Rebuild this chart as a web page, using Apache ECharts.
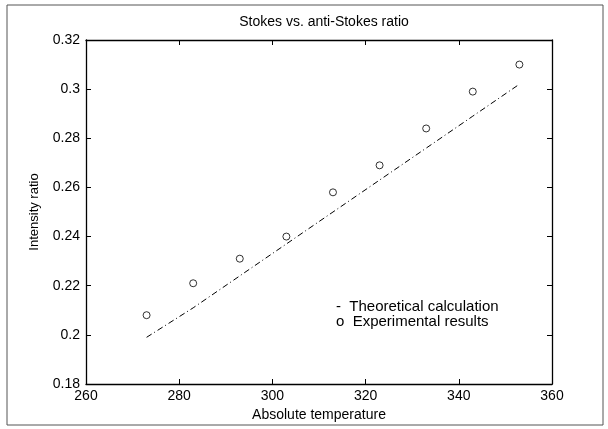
<!DOCTYPE html>
<html lang="en">
<head>
    <meta charset="UTF-8">
    <title>Stokes vs. anti-Stokes ratio</title>
    <script src="https://cdn.jsdelivr.net/npm/echarts@6/dist/echarts.min.js"></script>
</head>
<body style="margin: 0; background: #fff;">
    <div id="echarts" style="width: 608px; height: 429px;"></div>
    <script>
        const temps = [273, 283, 293, 303, 313, 323, 333, 343, 353]; // 绝对温度
        const theoretical = [0.199, 0.211, 0.224, 0.237, 0.250, 0.263, 0.276, 0.289, 0.302]; // 理论计算
        const experimental = [0.208, 0.221, 0.231, 0.240, 0.258, 0.269, 0.284, 0.299, 0.310]; // 实验结果
        const xTicks = [260, 280, 300, 320, 340, 360];
        const yTicks = [0.18, 0.2, 0.22, 0.24, 0.26, 0.28, 0.3, 0.32];

        const font = 'Liberation Sans, Arial, sans-serif';
        const myChart = echarts.init(document.querySelector('#echarts'));

        const tick = {show: true, inside: true, length: 5, lineStyle: {color: '#000'}};
        const line = {show: true, lineStyle: {color: '#000', width: 1.3}};

        const option = {
            backgroundColor: '#fff',
            animation: false,
            title: {
                text: 'Stokes vs. anti-Stokes ratio',
                left: 319, top: 10, textAlign: 'center',
                textStyle: {fontFamily: font, fontSize: 14, fontWeight: 'normal', color: '#000'}
            },
            grid: {left: 86, right: 56, top: 40, bottom: 45},
            legend: {
                orient: 'vertical',
                left: 331, top: 299,
                icon: 'none',
                itemGap: 0,
                itemWidth: 0,
                padding: 0,
                textStyle: {fontFamily: font, fontSize: 15, color: '#000', lineHeight: 15},
                formatter: name => (name === 'Theoretical calculation' ? '-  ' : 'o  ') + name,
                data: ['Theoretical calculation', 'Experimental results']
            },
            xAxis: [{
                type: 'value', min: 260, max: 360, interval: 20,
                name: 'Absolute temperature', nameLocation: 'middle', nameGap: 23,
                nameTextStyle: {fontFamily: font, fontSize: 14, color: '#000'},
                axisLine: line, axisTick: tick, splitLine: {show: false},
                axisLabel: {fontFamily: font, fontSize: 14, color: '#000', margin: 5,
                    formatter: v => xTicks.includes(v) ? String(v) : ''}
            }, {
                type: 'value', position: 'top', min: 260, max: 360, interval: 20,
                axisLine: line, axisTick: tick, axisLabel: {show: false}, splitLine: {show: false}
            }],
            yAxis: [{
                type: 'value', min: 0.18, max: 0.32, interval: 0.02,
                name: 'Intensity ratio', nameLocation: 'middle', nameGap: 45,
                nameTextStyle: {fontFamily: font, fontSize: 13, color: '#000'},
                axisLine: line, axisTick: tick, splitLine: {show: false},
                axisLabel: {fontFamily: font, fontSize: 14, color: '#000', margin: 6,
                    formatter: v => {
                        const t = yTicks.find(y => Math.abs(y - v) < 1e-6);
                        return t === undefined ? '' : String(t);
                    }}
            }, {
                type: 'value', position: 'right', min: 0.18, max: 0.32, interval: 0.02,
                axisLine: line, axisTick: tick, axisLabel: {show: false}, splitLine: {show: false}
            }],
            series: [
                {
                    name: 'Theoretical calculation',
                    type: 'line',
                    data: temps.map((t, i) => [t, theoretical[i]]),
                    showSymbol: false,
                    symbol: 'none',
                    lineStyle: {color: '#000', width: 1, type: [6, 3, 1, 3]},
                    itemStyle: {color: '#000'}
                },
                {
                    name: 'Experimental results',
                    type: 'scatter',
                    data: temps.map((t, i) => [t, experimental[i]]),
                    symbol: 'circle',
                    symbolSize: 7,
                    itemStyle: {color: '#fff', borderColor: '#000', borderWidth: 1}
                }
            ],
            graphic: [{
                type: 'rect',
                shape: {x: 7, y: 5, width: 596, height: 420},
                style: {fill: 'none', stroke: '#555', lineWidth: 1},
                silent: true
            }]
        };
        myChart.setOption(option);
    </script>
</body>
</html>
